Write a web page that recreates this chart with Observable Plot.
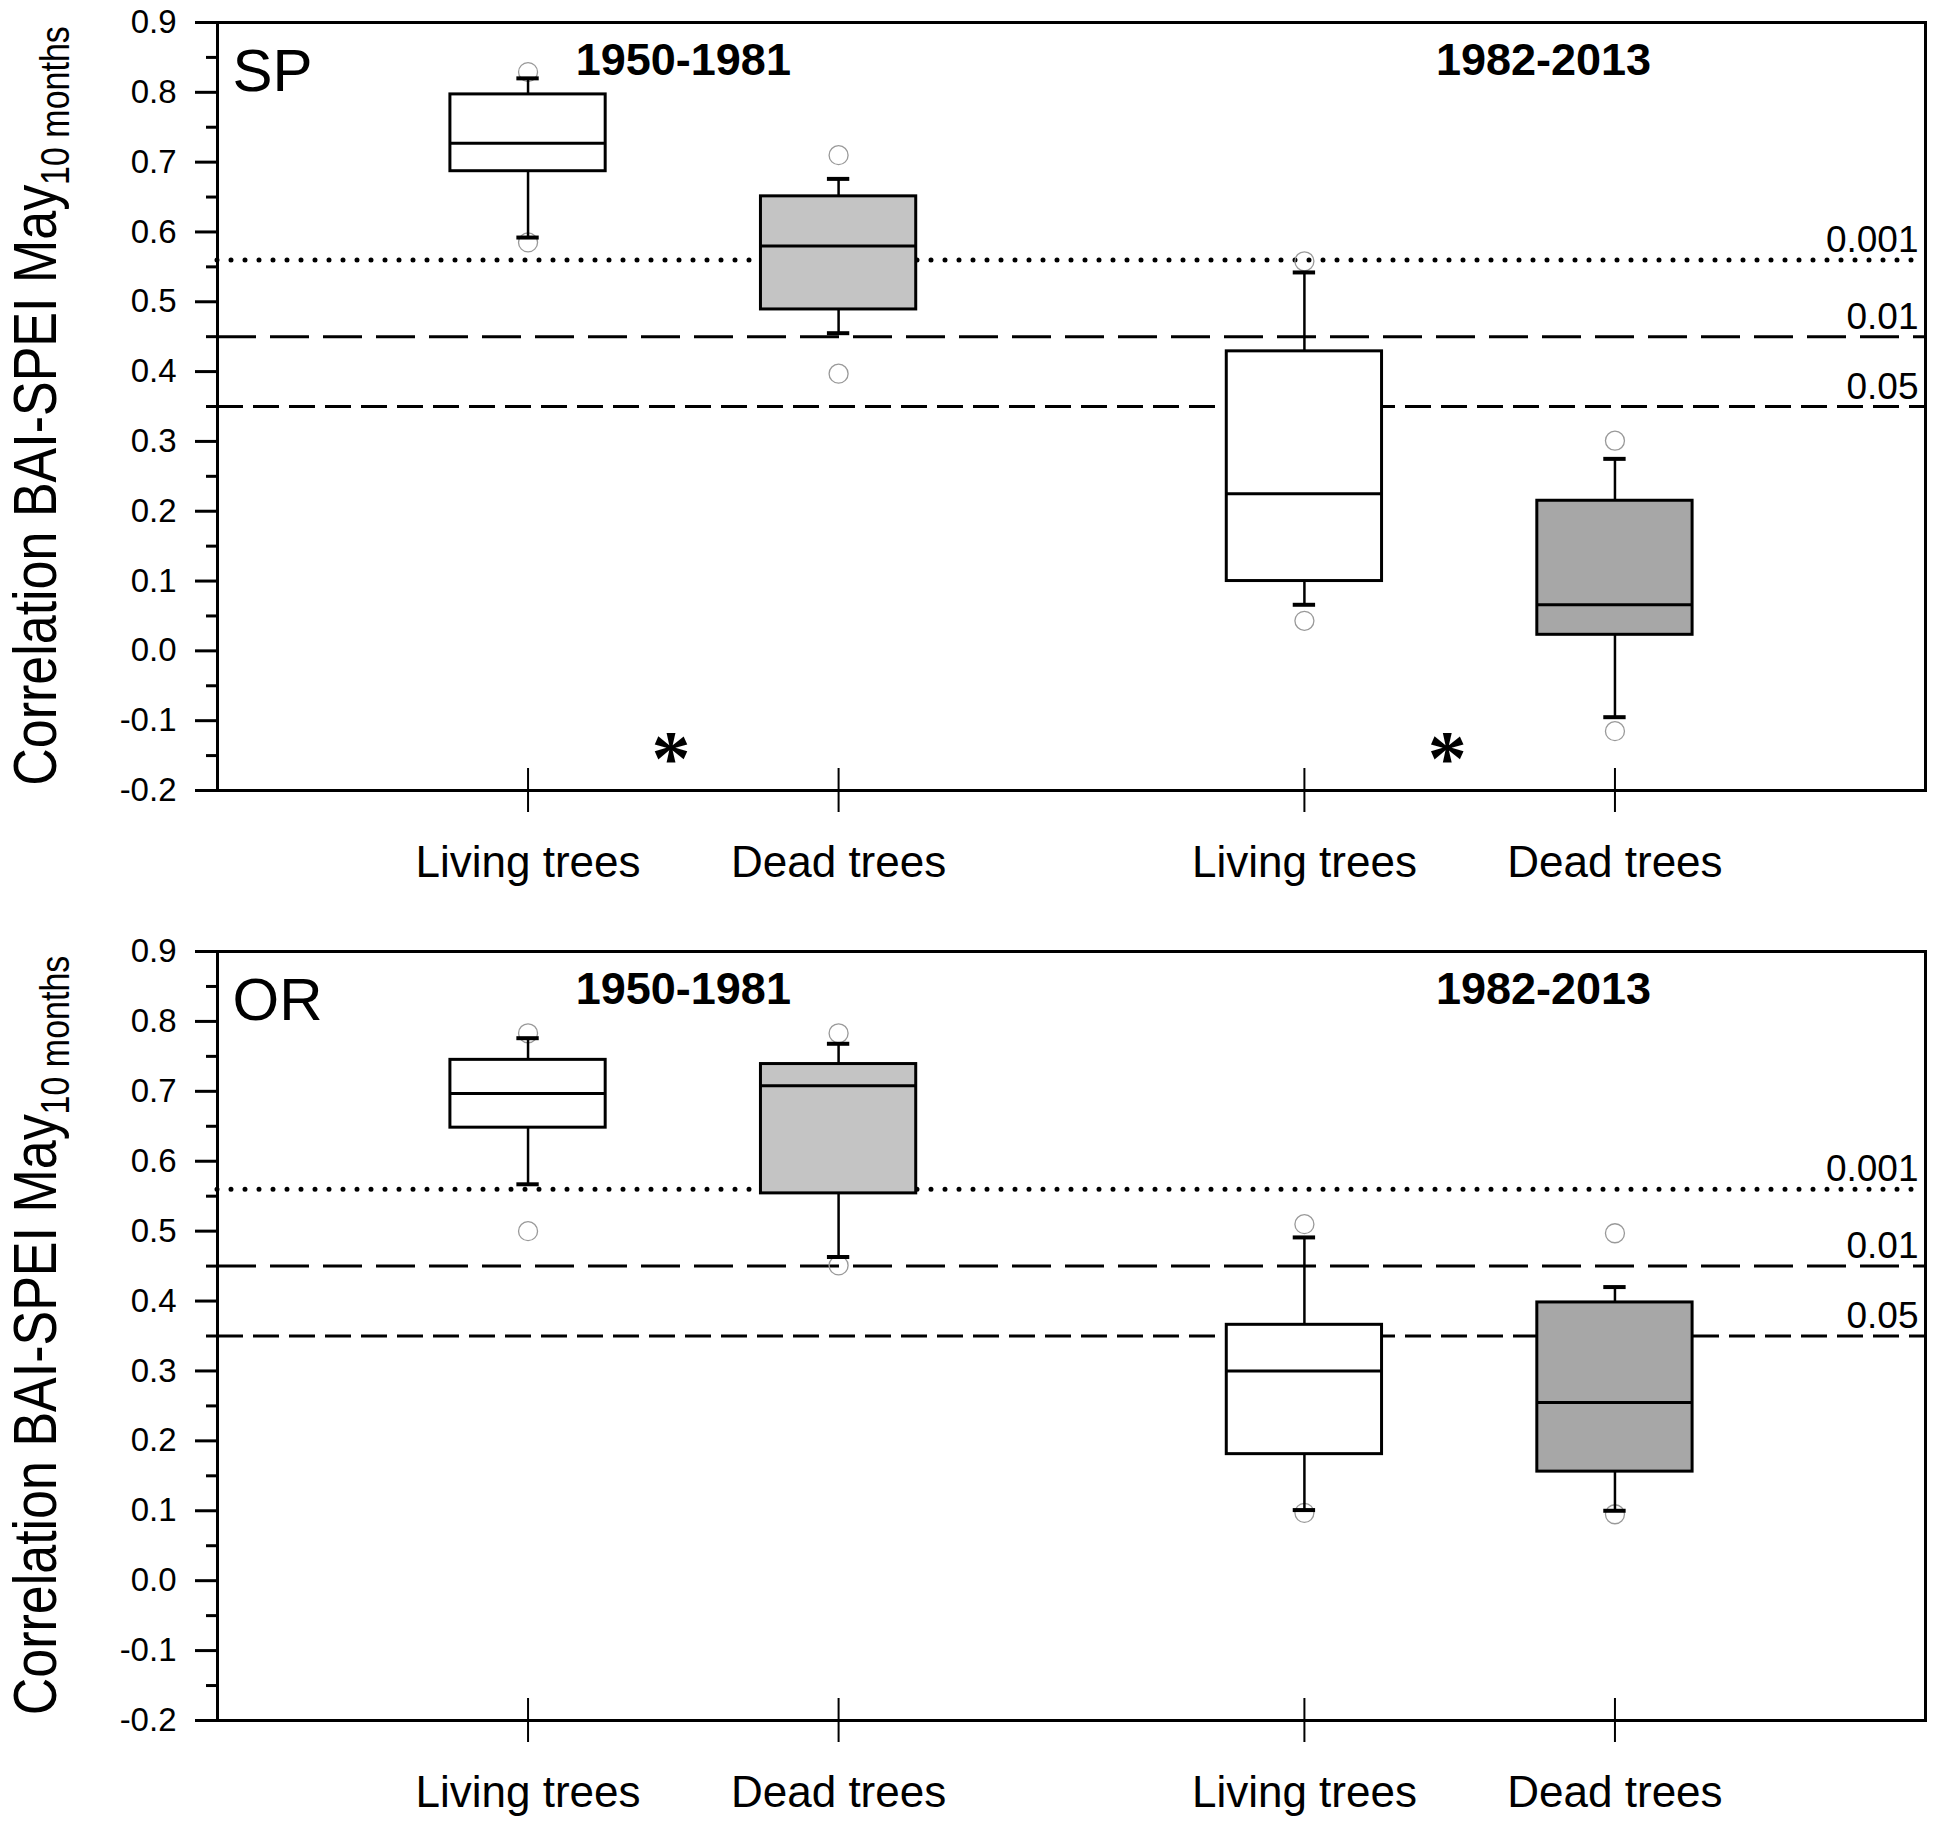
<!DOCTYPE html>
<html>
<head>
<meta charset="utf-8">
<script src="https://cdn.jsdelivr.net/npm/d3@7"></script>
<script src="https://cdn.jsdelivr.net/npm/@observablehq/plot@0.6"></script>
<style>
  html, body { margin: 0; padding: 0; background: #fff; }
  #chart svg { display: block; }
</style>
</head>
<body>
<div id="chart"></div>
<script>
// ---------- data ----------
const categories = ["Living trees", "Dead trees", "Living trees", "Dead trees"];
const periods = ["1950-1981", "1982-2013"];
const sites = ["SP", "OR"];
const yTicks = [-0.2, -0.1, 0.0, 0.1, 0.2, 0.3, 0.4, 0.5, 0.6, 0.7, 0.8, 0.9];
const yMinorTicks = [-0.15, -0.05, 0.05, 0.15, 0.25, 0.35, 0.45, 0.55, 0.65, 0.75, 0.85];
const sigLevels = [0.56, 0.45, 0.35];
const sigLabels = ["0.001", "0.01", "0.05"];

// SP site (order: living 1950-81, dead 1950-81, living 1982-2013, dead 1982-2013)
const spWhiskerLow  = [0.592, 0.455, 0.066, -0.095];
const spQ1          = [0.687, 0.489, 0.100, 0.023];
const spMedian      = [0.727, 0.580, 0.225, 0.066];
const spQ3          = [0.797, 0.651, 0.429, 0.215];
const spWhiskerHigh = [0.820, 0.676, 0.542, 0.275];
const spOutlierLow  = [0.585, 0.397, 0.043, -0.115];
const spOutlierHigh = [0.829, 0.710, 0.558, 0.301];

// OR site
const orWhiskerLow  = [0.567, 0.463, 0.101, 0.100];
const orQ1          = [0.648, 0.554, 0.181, 0.156];
const orMedian      = [0.697, 0.708, 0.300, 0.255];
const orQ3          = [0.745, 0.739, 0.366, 0.398];
const orWhiskerHigh = [0.776, 0.768, 0.491, 0.420];
const orOutlierLow  = [0.500, 0.451, 0.097, 0.095];
const orOutlierHigh = [0.783, 0.783, 0.510, 0.497];

// ---------- layout / style ----------
const POS = [1, 2, 3.5, 4.5];              // x positions of the four boxes
const PERIOD_X = [1.5, 4.27];
const STAR_X = [1.46, 3.96];
const FILLS = ["#ffffff", "#c4c4c4", "#ffffff", "#a7a7a7"];
const FONT = "'Liberation Sans', Arial, sans-serif";

function panel(site, s, height, marginBottom, stars) {
  const rows = categories.map((c, i) => ({
    pos: POS[i], lo: s.lo[i], q1: s.q1[i], med: s.med[i], q3: s.q3[i], hi: s.hi[i], fill: FILLS[i]
  }));
  const outliers = rows.flatMap((r, i) => [
    {pos: r.pos, v: s.outLo[i]},
    {pos: r.pos, v: s.outHi[i]}
  ]);
  const cap = 0.036, half = 0.25;
  const marks = [
    // significance thresholds
    Plot.ruleY([sigLevels[0]], {stroke: "black", strokeWidth: 5, strokeDasharray: "0,14", strokeLinecap: "round"}),
    Plot.ruleY([sigLevels[1]], {stroke: "black", strokeWidth: 3, strokeDasharray: "39,14"}),
    Plot.ruleY([sigLevels[2]], {stroke: "black", strokeWidth: 3, strokeDasharray: "26,10"}),
    Plot.text(sigLevels, {x: 5.5, y: d => d, text: (d, i) => sigLabels[i], textAnchor: "end", lineAnchor: "bottom",
      dx: -7, dy: -8, fontSize: 37, fill: "black"}),
    // outliers
    Plot.dot(outliers, {x: "pos", y: "v", r: 9.5, stroke: "#999999", strokeWidth: 1.3, fill: "none"}),
    // whiskers
    Plot.ruleX(rows, {x: "pos", y1: "q3", y2: "hi", stroke: "black", strokeWidth: 2.5}),
    Plot.ruleX(rows, {x: "pos", y1: "lo", y2: "q1", stroke: "black", strokeWidth: 2.5}),
    Plot.ruleY(rows, {y: "hi", x1: d => d.pos - cap, x2: d => d.pos + cap, stroke: "black", strokeWidth: 4}),
    Plot.ruleY(rows, {y: "lo", x1: d => d.pos - cap, x2: d => d.pos + cap, stroke: "black", strokeWidth: 4}),
    // boxes
    Plot.rect(rows, {x1: d => d.pos - half, x2: d => d.pos + half, y1: "q1", y2: "q3", fill: "fill",
      stroke: "black", strokeWidth: 3}),
    Plot.ruleY(rows, {y: "med", x1: d => d.pos - half, x2: d => d.pos + half, stroke: "black", strokeWidth: 3}),
    // frame & axes
    Plot.frame({stroke: "black", strokeWidth: 3}),
    Plot.axisY(yTicks, {tickSize: 22, tickPadding: 19, tickFormat: d => d.toFixed(1), fontSize: 33,
      strokeWidth: 3, fill: "black"}),
    Plot.axisY(yMinorTicks, {tickSize: 11, tickFormat: () => "", strokeWidth: 3}),
    Plot.axisX(POS, {tickSize: 22, tickPadding: 33, tickFormat: d => categories[POS.indexOf(d)],
      fontSize: 44, strokeWidth: 2, fill: "black"}),
    Plot.ruleX(POS, {y1: -0.2, y2: -0.2 + 0.0315, stroke: "black", strokeWidth: 2}),
    // annotations
    Plot.text([site], {frameAnchor: "top-left", dx: 15, dy: 26, lineAnchor: "top", fontSize: 60, fill: "black"}),
    Plot.text(periods, {x: (d, i) => PERIOD_X[i], y: 0.825, lineAnchor: "bottom", fontSize: 45,
      fontWeight: "bold", fill: "black"})
  ];
  if (stars) {
    marks.push(Plot.text(["*", "*"], {x: (d, i) => STAR_X[i], y: -0.19, lineAnchor: "bottom",
      fontSize: 78, fontWeight: "bold", fontFamily: "'Liberation Serif', serif", fill: "black"}));
  }
  const svg = Plot.plot({
    width: 1938, height, marginTop: 22, marginBottom, marginLeft: 217, marginRight: 13,
    style: {fontFamily: FONT, background: "white", color: "black"},
    x: {domain: [0, 5.5], axis: null, label: null},
    y: {domain: [-0.2, 0.9], axis: null, label: null},
    marks
  });
  // rotated y-axis title with subscript
  const cy = (22 + (height - marginBottom)) / 2;
  const t = d3.select(svg).append("text")
    .attr("transform", `translate(56, ${cy}) rotate(-90) scale(1, 1.18)`)
    .attr("text-anchor", "middle")
    .style("font-family", FONT)
    .style("font-size", "52px")
    .attr("fill", "black");
  t.append("tspan").text("Correlation BAI-SPEI May");
  t.append("tspan").attr("dy", 11).style("font-size", "34px").text("10 months");
  return svg;
}

const chart = document.getElementById("chart");
chart.appendChild(panel(sites[0], {
  lo: spWhiskerLow, q1: spQ1, med: spMedian, q3: spQ3, hi: spWhiskerHigh, outLo: spOutlierLow, outHi: spOutlierHigh
}, 929, 139, true));
chart.appendChild(panel(sites[1], {
  lo: orWhiskerLow, q1: orQ1, med: orMedian, q3: orQ3, hi: orWhiskerHigh, outLo: orOutlierLow, outHi: orOutlierHigh
}, 895, 104, false));
</script>
</body>
</html>
